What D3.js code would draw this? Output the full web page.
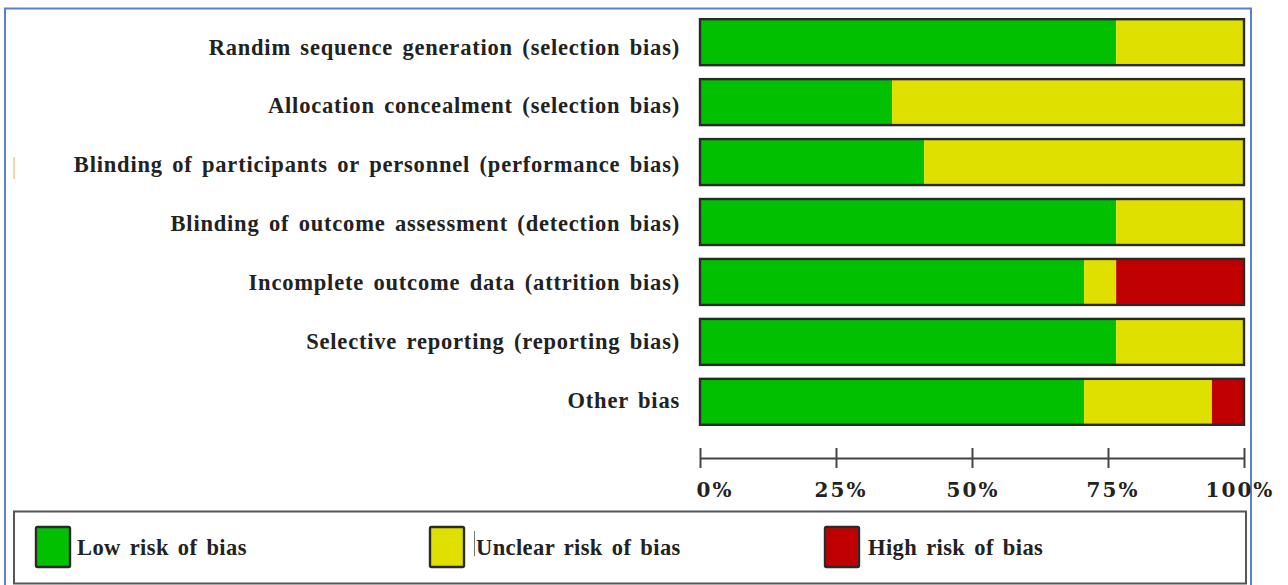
<!DOCTYPE html>
<html>
<head>
<meta charset="utf-8">
<script src="https://cdn.jsdelivr.net/npm/d3@7"></script>
<style>
  html, body { margin: 0; padding: 0; background: #fff; }
  svg { display: block; }
</style>
</head>
<body>
<svg id="chart" width="1288" height="585"></svg>
<script>
const categories = [
  "Randim sequence generation (selection bias)",
  "Allocation concealment (selection bias)",
  "Blinding of participants or personnel (performance bias)",
  "Blinding of outcome assessment (detection bias)",
  "Incomplete outcome data (attrition bias)",
  "Selective reporting (reporting bias)",
  "Other bias"
];
const lowRisk     = [76.5, 35.3, 41.2, 76.5, 70.6, 76.5, 70.6];
const unclearRisk = [23.5, 64.7, 58.8, 23.5,  5.9, 23.5, 23.5];
const highRisk    = [ 0.0,  0.0,  0.0,  0.0, 23.5,  0.0,  5.9];
const tickValues  = [0, 25, 50, 75, 100];
const tickLabels  = ["0%", "25%", "50%", "75%", "100%"];
const seriesNames = ["Low risk of bias", "Unclear risk of bias", "High risk of bias"];
const seriesColors = ["#00c000", "#e0e000", "#c00000"];

const svg = d3.select("#chart");

// outer blue frame
svg.append("path")
  .attr("d", "M5,600 L5,8.5 L1251,8.5 L1251,600")
  .attr("fill", "none").attr("stroke", "#5a7fd0").attr("stroke-width", 2);
// small artifact
svg.append("line").attr("x1", 14).attr("x2", 14).attr("y1", 157).attr("y2", 179)
  .attr("stroke", "#f0c890").attr("stroke-width", 1.5);

const x = d3.scaleLinear().domain([0, 100]).range([700, 1244]);
const y = d3.scaleBand().domain(categories).range([12, 432]).paddingInner(0.233).paddingOuter(0.12);
const ly = d3.scalePoint().domain(categories).range([47, 400]);

const rows = categories.map((c, i) => ({ cat: c, vals: [lowRisk[i], unclearRisk[i], highRisk[i]] }));
const stack = d3.stack().keys([0, 1, 2]).value((d, k) => d.vals[k]);
const layers = stack(rows);

const defs = svg.append("defs");
const f = defs.append("filter").attr("id", "blur").attr("x", "-5%").attr("y", "-20%").attr("width", "110%").attr("height", "140%");
f.append("feGaussianBlur").attr("stdDeviation", 0.6);

const g = svg.append("g");
layers.forEach((layer, k) => {
  g.selectAll(".seg" + k).data(layer).enter().append("rect")
    .attr("x", d => x(d[0]))
    .attr("width", d => Math.max(0, x(d[1]) - x(d[0])))
    .attr("y", d => y(d.data.cat))
    .attr("height", y.bandwidth())
    .attr("fill", seriesColors[k]);
});
g.selectAll(".outline").data(rows).enter().append("rect")
  .attr("x", x(0)).attr("width", x(100) - x(0))
  .attr("y", d => y(d.cat)).attr("height", y.bandwidth())
  .attr("fill", "none").attr("stroke", "#2a2a2a").attr("stroke-width", 2.4)
  .attr("filter", "url(#blur)");

const labelFont = "'Liberation Serif', 'Times New Roman', serif";

// category labels
svg.append("g").selectAll("text").data(categories).enter().append("text")
  .attr("x", 680)
  .attr("y", d => ly(d) + 7.5)
  .attr("text-anchor", "end")
  .attr("font-family", labelFont)
  .attr("font-weight", "bold")
  .attr("font-size", 22.5)
  .attr("word-spacing", 3)
  .attr("letter-spacing", 0.8)
  .attr("fill", "#222")
  .text(d => d);

// axis
const axis = d3.axisBottom(x).tickValues(tickValues).tickSize(0).tickFormat("");
const ag = svg.append("g").attr("transform", "translate(0,458)").call(axis);
ag.select(".domain").attr("stroke", "#444").attr("stroke-width", 2.2);
ag.selectAll(".tick").append("line").attr("y1", -10).attr("y2", 10).attr("stroke", "#444").attr("stroke-width", 2);
const tickDx = [15, 5, 1, 5, -4];
svg.append("g").selectAll("text").data(tickValues).enter().append("text")
  .attr("x", (d, i) => x(d) + tickDx[i])
  .attr("y", 497)
  .attr("text-anchor", "middle")
  .attr("font-family", "'DejaVu Serif', serif")
  .attr("font-weight", "bold")
  .attr("font-size", 20)
  .attr("letter-spacing", 2)
  .attr("fill", "#222")
  .text((d, i) => tickLabels[i]);

// legend
svg.append("rect").attr("x", 14).attr("y", 511.5).attr("width", 1232).attr("height", 72)
  .attr("fill", "#fff").attr("stroke", "#555").attr("stroke-width", 2);
const legX = [36, 430, 825];
const legTextX = [77, 476, 868];
const lg = svg.append("g").selectAll("g").data(seriesNames).enter().append("g");
lg.append("rect").attr("x", (d, i) => legX[i]).attr("y", 527).attr("width", 34).attr("height", 40).attr("rx", 1.5)
  .attr("fill", (d, i) => seriesColors[i]).attr("stroke", "#2a2a2a").attr("stroke-width", 2.4)
  .attr("filter", "url(#blur)");
lg.append("text").attr("x", (d, i) => legTextX[i]).attr("y", 555)
  .attr("font-family", labelFont)
  .attr("font-weight", "bold").attr("font-size", 22.5).attr("word-spacing", 3).attr("letter-spacing", 0.4)
  .attr("fill", "#222").text(d => d);
svg.append("line").attr("x1", 474.5).attr("x2", 474.5).attr("y1", 531).attr("y2", 556)
  .attr("stroke", "#777").attr("stroke-width", 1);
</script>
</body>
</html>
